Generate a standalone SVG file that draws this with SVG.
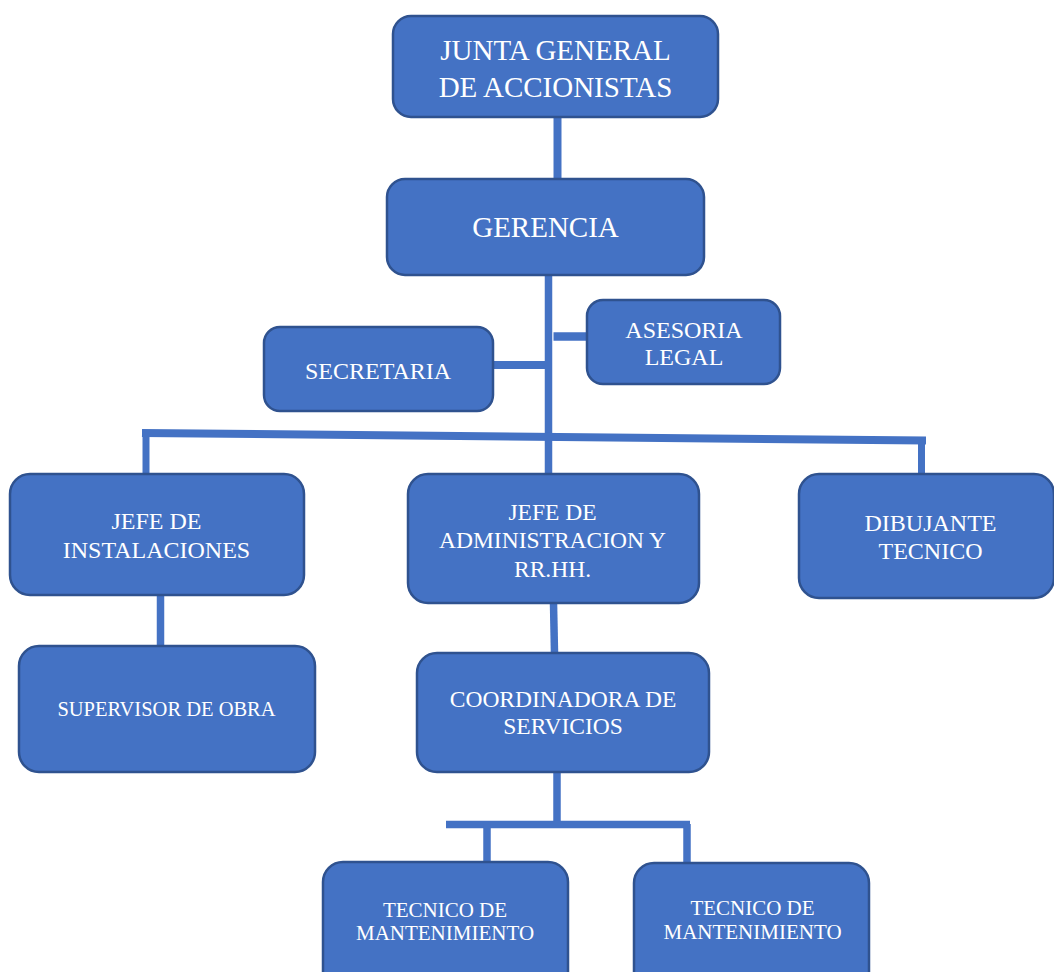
<svg xmlns="http://www.w3.org/2000/svg" width="1054" height="972" viewBox="0 0 1054 972">
<style>
.box{fill:#4472C4;stroke:#2F528F;stroke-width:2.5}
.t{fill:#FFFFFF;font-family:"Liberation Serif","Times New Roman",serif;text-anchor:middle}
.c{stroke:#4472C4;fill:none;stroke-linecap:butt}
</style>
<rect width="1054" height="972" fill="#FFFFFF"/>
<g id="connectors">
<line class="c" x1="557.5" y1="117" x2="557.5" y2="179" stroke-width="8"/>
<line class="c" x1="548.5" y1="275" x2="548.5" y2="474" stroke-width="7.5"/>
<line class="c" x1="493" y1="365" x2="548" y2="365" stroke-width="8"/>
<line class="c" x1="553.5" y1="336.5" x2="587" y2="336.5" stroke-width="8.5"/>
<line class="c" x1="142" y1="433" x2="926" y2="440.5" stroke-width="8"/>
<line class="c" x1="146" y1="433" x2="146" y2="474" stroke-width="7"/>
<line class="c" x1="921.5" y1="440" x2="921.5" y2="475" stroke-width="7"/>
<line class="c" x1="160.5" y1="595" x2="160.5" y2="647" stroke-width="7.5"/>
<line class="c" x1="553.5" y1="603" x2="554.5" y2="653" stroke-width="7.5"/>
<line class="c" x1="557" y1="772" x2="557" y2="824" stroke-width="7.5"/>
<line class="c" x1="446" y1="824.5" x2="690" y2="824.5" stroke-width="7.5"/>
<line class="c" x1="487" y1="824" x2="487" y2="863" stroke-width="7.5"/>
<line class="c" x1="687" y1="824" x2="687" y2="864" stroke-width="7.5"/>
</g>
<g id="junta">
<rect class="box" x="393" y="16" width="325" height="101" rx="18"/>
<text class="t" x="555.5" y="60" font-size="29">JUNTA GENERAL</text>
<text class="t" x="555.5" y="97" font-size="29">DE ACCIONISTAS</text>
</g>
<g id="gerencia">
<rect class="box" x="387" y="179" width="317" height="96" rx="18"/>
<text class="t" x="545.5" y="237" font-size="29">GERENCIA</text>
</g>
<g id="secretaria">
<rect class="box" x="264" y="327" width="229" height="84" rx="16"/>
<text class="t" x="378" y="379" font-size="24">SECRETARIA</text>
</g>
<g id="asesoria">
<rect class="box" x="587" y="300" width="193" height="84" rx="16"/>
<text class="t" x="684" y="338" font-size="24">ASESORIA</text>
<text class="t" x="684" y="365" font-size="24">LEGAL</text>
</g>
<g id="jefe-instalaciones">
<rect class="box" x="10" y="474" width="294" height="121" rx="20"/>
<text class="t" x="156.5" y="529" font-size="24">JEFE DE</text>
<text class="t" x="156.5" y="558" font-size="24">INSTALACIONES</text>
</g>
<g id="jefe-administracion">
<rect class="box" x="408" y="474" width="291" height="129" rx="20"/>
<text class="t" x="552.5" y="520" font-size="23.5">JEFE DE</text>
<text class="t" x="552.5" y="548" font-size="23.5">ADMINISTRACION Y</text>
<text class="t" x="552.5" y="577" font-size="23.5">RR.HH.</text>
</g>
<g id="dibujante">
<rect class="box" x="799" y="474" width="255" height="124" rx="20"/>
<text class="t" x="930.5" y="531" font-size="24">DIBUJANTE</text>
<text class="t" x="930.5" y="559" font-size="24">TECNICO</text>
</g>
<g id="supervisor">
<rect class="box" x="19" y="646" width="296" height="126" rx="20"/>
<text class="t" x="166.5" y="716" font-size="20.5">SUPERVISOR DE OBRA</text>
</g>
<g id="coordinadora">
<rect class="box" x="417" y="653" width="292" height="119" rx="20"/>
<text class="t" x="563" y="707" font-size="23.5">COORDINADORA DE</text>
<text class="t" x="563" y="734" font-size="23.5">SERVICIOS</text>
</g>
<g id="tecnico-1">
<rect class="box" x="323" y="862" width="245" height="130" rx="20"/>
<text class="t" x="445" y="917" font-size="21">TECNICO DE</text>
<text class="t" x="445" y="940" font-size="21">MANTENIMIENTO</text>
</g>
<g id="tecnico-2">
<rect class="box" x="634" y="863" width="235" height="130" rx="20"/>
<text class="t" x="752.5" y="915" font-size="21">TECNICO DE</text>
<text class="t" x="752.5" y="939" font-size="21">MANTENIMIENTO</text>
</g>
</svg>
